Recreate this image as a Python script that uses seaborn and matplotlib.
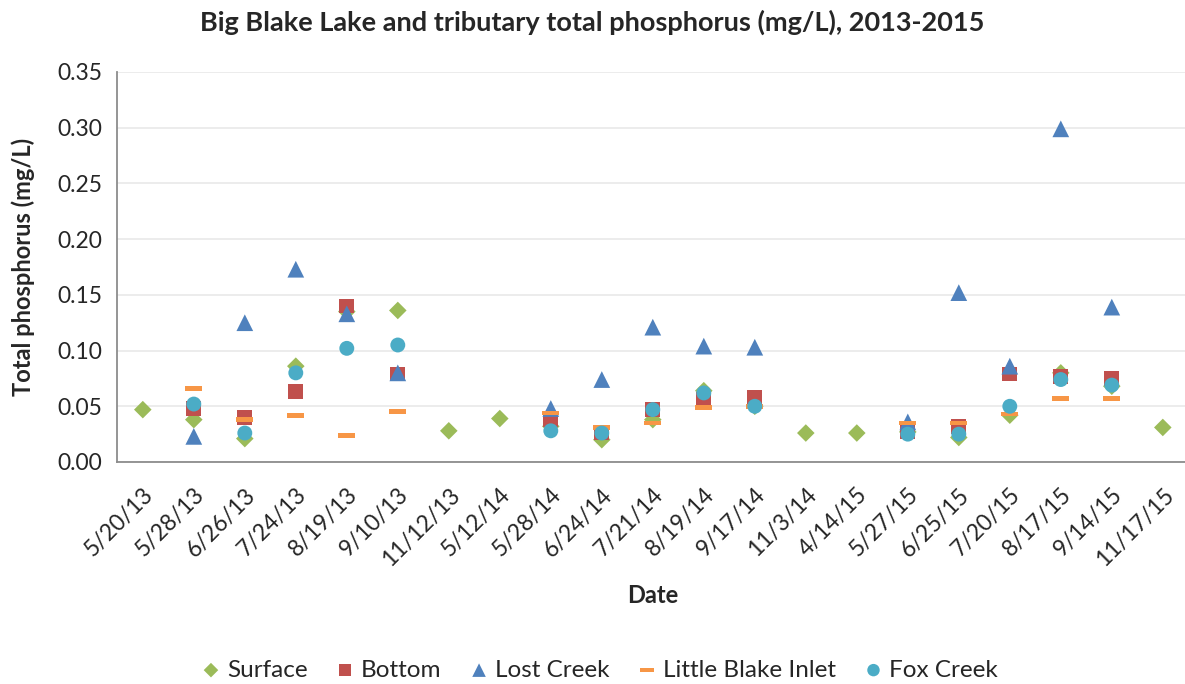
import matplotlib
matplotlib.use('Agg')
import matplotlib.pyplot as plt
import numpy as np
import pandas as pd
import seaborn as sns
from matplotlib.path import Path

# sampling dates (categorical axis)
dates = ['5/20/13', '5/28/13', '6/26/13', '7/24/13', '8/19/13', '9/10/13', '11/12/13',
         '5/12/14', '5/28/14', '6/24/14', '7/21/14', '8/19/14', '9/17/14', '11/3/14',
         '4/14/15', '5/27/15', '6/25/15', '7/20/15', '8/17/15', '9/14/15', '11/17/15']

nan = np.nan
surface = [0.047, 0.038, 0.021, 0.086, 0.135, 0.136, 0.028,
           0.039, 0.032, 0.020, 0.038, 0.064, 0.050, 0.026,
           0.026, 0.027, 0.022, 0.042, 0.080, 0.068, 0.031]
bottom = [nan, 0.048, 0.040, 0.063, 0.140, 0.079, nan,
          nan, 0.038, 0.026, 0.047, 0.056, 0.058, nan,
          nan, 0.027, 0.032, 0.079, 0.077, 0.075, nan]
lost_creek = [nan, 0.023, 0.125, 0.173, 0.133, 0.080, nan,
              nan, 0.048, 0.074, 0.121, 0.104, 0.103, nan,
              nan, 0.036, 0.152, 0.086, 0.299, 0.139, nan]
little_blake = [nan, 0.066, 0.038, 0.042, 0.024, 0.045, nan,
                nan, 0.044, 0.031, 0.035, 0.049, 0.050, nan,
                nan, 0.035, 0.035, 0.043, 0.057, 0.057, nan]
fox_creek = [nan, 0.052, 0.026, 0.080, 0.102, 0.105, nan,
             nan, 0.028, 0.026, 0.047, 0.062, 0.050, nan,
             nan, 0.025, 0.025, 0.050, 0.074, 0.069, nan]

series_names = ['Surface', 'Bottom', 'Lost Creek', 'Little Blake Inlet', 'Fox Creek']
series_values = [surface, bottom, lost_creek, little_blake, fox_creek]
colors = ['#9BBB59', '#C0504D', '#4F81BD', '#F79646', '#4BACC6']

dash = Path([(-1, -0.28), (1, -0.28), (1, 0.28), (-1, 0.28), (-1, -0.28)],
            [Path.MOVETO, Path.LINETO, Path.LINETO, Path.LINETO, Path.CLOSEPOLY])
markers = ['D', 's', '^', dash, 'o']
sizes = [80, 115, 145, 150, 115]
legend_sizes = [55, 75, 95, 90, 80]

sns.set_theme(style='white')
plt.rcParams['font.family'] = ['Lato', 'DejaVu Sans']

fig = plt.figure(figsize=(11.85, 6.84), dpi=100)
ax = fig.add_axes([117.3 / 1185, 222 / 684, 1071 / 1185, 390 / 684])

for name, vals, col, mk, sz in zip(series_names, series_values, colors, markers, sizes):
    df = pd.DataFrame({'pos': np.arange(len(dates)), 'value': vals}).dropna()
    sns.scatterplot(data=df, x='pos', y='value', marker=mk, color=col, s=sz,
                    edgecolor='none', linewidth=0, ax=ax, label=name, zorder=3)

ax.set_xlim(-0.5, len(dates) - 0.5)
ax.set_ylim(0, 0.35)
ax.set_yticks(np.arange(0, 0.351, 0.05))
ax.set_yticklabels([f'{v:.2f}' for v in np.arange(0, 0.351, 0.05)], fontsize=16.5)
ax.yaxis.grid(True, color='#EBEBEB', linewidth=1.3)
ax.set_axisbelow(True)

ax.set_xticks(np.arange(len(dates)))
ax.set_xticklabels(dates, rotation=45, ha='right', rotation_mode='anchor', fontsize=16.5)
ax.set_xticks(np.arange(len(dates) + 1) - 0.5, minor=True)
ax.tick_params(axis='x', which='major', length=0, pad=16)
ax.tick_params(axis='x', which='minor', length=7, width=1.3, color='#8C8C8C', direction='out')
ax.tick_params(axis='y', which='major', length=6, width=1.3, color='#8C8C8C', direction='out', pad=5)

for s in ['top', 'right']:
    ax.spines[s].set_visible(False)
for s in ['left', 'bottom']:
    ax.spines[s].set_color('#8C8C8C')
    ax.spines[s].set_linewidth(1.3)

ax.set_xlabel('Date', fontsize=17, fontweight='bold', labelpad=10)
ax.set_ylabel('Total phosphorus (mg/L)', fontsize=17, fontweight='bold', labelpad=16)

fig.text(0.5, 1 - 22 / 684, 'Big Blake Lake and tributary total phosphorus (mg/L), 2013-2015',
         ha='center', va='center', fontsize=19.5, fontweight='bold')

ax.legend_.remove()
handles, labels = ax.get_legend_handles_labels()
leg = fig.legend(handles, labels, loc='center', bbox_to_anchor=(0.505, 1 - 670 / 684), ncol=5,
                 frameon=False, fontsize=17.5, handlelength=1.0, handletextpad=0.15,
                 columnspacing=1.05)
for h, sz in zip(leg.legend_handles, legend_sizes):
    h.set_sizes([sz])

fig.savefig('out.png', dpi=100)
